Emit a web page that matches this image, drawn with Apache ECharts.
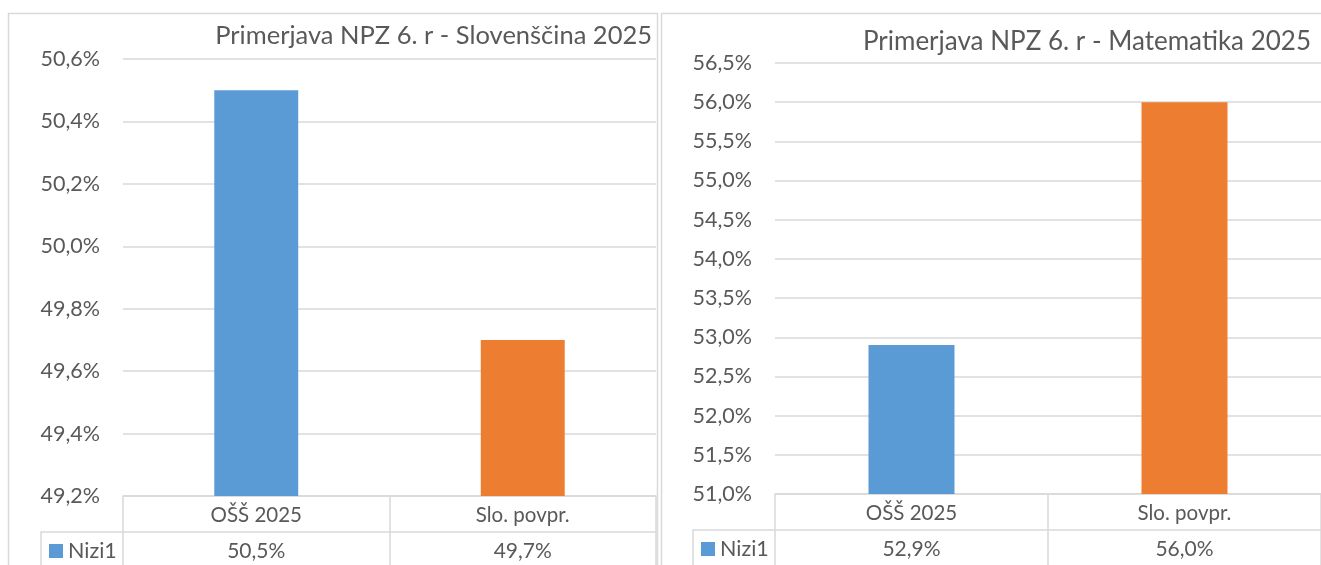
<!DOCTYPE html>
<html>
<head>
<meta charset="utf-8">
<script src="https://cdn.jsdelivr.net/npm/echarts@6/dist/echarts.min.js"></script>
<style>
html,body{margin:0;padding:0;background:#fff;}
#c{width:1321px;height:565px;}
</style>
</head>
<body>
<div id="c"></div>
<script>
// ---- data ----
const categories = ['OŠŠ 2025', 'Slo. povpr.'];
const seriesName = 'Nizi1';
const sloValues = [50.5, 49.7];
const matValues = [52.9, 56.0];
const barColors = ['#5B9BD5', '#ED7D31'];
const sloTitle = 'Primerjava NPZ 6. r - Slovenščina 2025';
const matTitle = 'Primerjava NPZ 6. r - Matematika 2025';
const sloAxis = [49.2, 50.6, 0.2];   // min, max, interval
const matAxis = [51.0, 56.5, 0.5];

// ---- style ----
const FONT = 'Lato';
const TXT = '#595959';
const LINE = '#D9D9D9';
const fmt = v => v.toFixed(1).replace('.', ',') + '%';

const chart = echarts.init(document.getElementById('c'), null, {renderer: 'canvas'});

// layout constants
const G = [
  {left: 123, width: 533, top: 59, bottom: 69, legendLeft: 49, cellLeft: 41, titleRight: 664, titleTop: 18},
  {left: 775, width: 554, top: 63, bottom: 71, legendLeft: 701, cellLeft: 693, titleRight: 5, titleTop: 24}
];
const H = 565;
const rowH = 36;

function xAxes(gi, values) {
  return [
    {
      type: 'category', gridIndex: gi, data: categories, position: 'bottom',
      axisLine: {show: true, lineStyle: {color: LINE, width: 1.5}},
      axisTick: {show: true, length: 90, alignWithLabel: false, lineStyle: {color: LINE, width: 1.5}},
      axisLabel: {color: TXT, fontFamily: FONT, fontSize: 20.5, margin: 19, verticalAlign: 'middle'},
      splitLine: {show: false}
    },
    {
      type: 'category', gridIndex: gi, data: categories, position: 'bottom', offset: rowH,
      axisLine: {show: true, lineStyle: {color: LINE, width: 1.5}},
      axisTick: {show: false},
      axisLabel: {color: TXT, fontFamily: FONT, fontSize: 21, margin: 19, verticalAlign: 'middle',
        formatter: (v, i) => fmt(values[i])},
      splitLine: {show: false}
    }
  ];
}

function yAxis(gi, ax) {
  return {
    type: 'value', gridIndex: gi, min: ax[0], max: ax[1], interval: ax[2],
    axisLine: {show: false}, axisTick: {show: false},
    axisLabel: {color: TXT, fontFamily: FONT, fontSize: 21.5, margin: 23, formatter: fmt},
    splitLine: {show: true, lineStyle: {color: LINE, width: 1.5}}
  };
}

function barSeries(xi, yi, values) {
  return {
    type: 'bar', name: seriesName, xAxisIndex: xi, yAxisIndex: yi,
    barWidth: '31.5%',
    itemStyle: {color: barColors[0]},
    data: values.map((v, i) => ({value: v, itemStyle: {color: barColors[i]}}))
  };
}

const graphics = [];
// panel borders
graphics.push({type: 'rect', shape: {x: 8.5, y: 13.5, width: 649, height: 700},
  style: {fill: 'none', stroke: LINE, lineWidth: 1.5}, z: -1});
graphics.push({type: 'rect', shape: {x: 661.5, y: 13.5, width: 700, height: 700},
  style: {fill: 'none', stroke: LINE, lineWidth: 1.5}, z: -1});
// legend cells of data tables
G.forEach(g => {
  const top = H - g.bottom + rowH;
  graphics.push({type: 'polyline', shape: {points: [[g.cellLeft, H + 10], [g.cellLeft, top], [g.left, top]]},
    style: {fill: 'none', stroke: LINE, lineWidth: 1.5}});
});

const option = {
  animation: false,
  backgroundColor: '#fff',
  textStyle: {fontFamily: FONT},
  title: [
    {text: sloTitle, right: G[0].titleRight, top: G[0].titleTop,
      textStyle: {color: TXT, fontFamily: FONT, fontSize: 25.5, fontWeight: 'normal'}},
    {text: matTitle, right: G[1].titleRight, top: G[1].titleTop,
      textStyle: {color: TXT, fontFamily: FONT, fontSize: 26, fontWeight: 'normal'}}
  ],
  legend: G.map(g => ({
    data: [seriesName], left: g.legendLeft, top: H - g.bottom + rowH + 8, orient: 'horizontal',
    icon: 'rect', itemWidth: 14, itemHeight: 14, itemGap: 5, padding: 0,
    textStyle: {color: TXT, fontFamily: FONT, fontSize: 21.5},
    selectedMode: false
  })),
  grid: G.map(g => ({left: g.left, width: g.width, top: g.top, bottom: g.bottom, containLabel: false})),
  xAxis: [...xAxes(0, sloValues), ...xAxes(1, matValues)],
  yAxis: [yAxis(0, sloAxis), yAxis(1, matAxis)],
  series: [barSeries(0, 0, sloValues), barSeries(2, 1, matValues)],
  graphic: graphics
};
chart.setOption(option);
</script>
</body>
</html>
